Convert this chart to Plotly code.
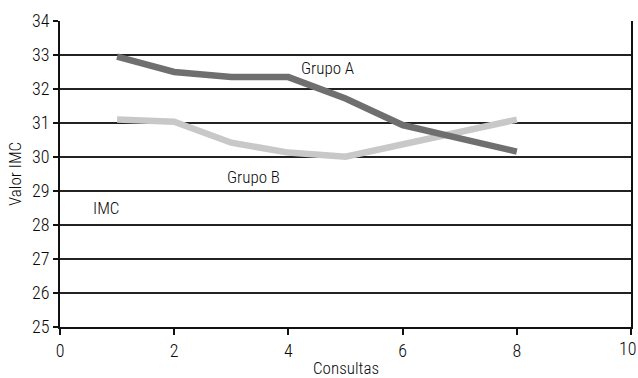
import plotly.graph_objects as go

consultas = [1, 2, 3, 4, 5, 6, 7, 8]
grupo_a = [32.95, 32.5, 32.35, 32.35, 31.72, 30.94, 30.55, 30.16]
grupo_b = [31.1, 31.04, 30.42, 30.13, 30.01, 30.37, 30.74, 31.1]
x_ticks = [0, 2, 4, 6, 8]
y_ticks = [25, 26, 27, 28, 29, 30, 31, 32, 33, 34]

FONT = "Roboto Condensed, Liberation Sans, Arial"
TXT = "#0a0a0a"
W = 300

fig = go.Figure()
fig.add_trace(go.Scatter(x=consultas, y=grupo_b, mode="lines", name="Grupo B",
                         line=dict(color="#c8c8c8", width=6.5)))
fig.add_trace(go.Scatter(x=consultas, y=grupo_a, mode="lines", name="Grupo A",
                         line=dict(color="#6f6f6f", width=6.5)))

fig.add_annotation(x=4.69, y=32.63, text="Grupo A", showarrow=False,
                   font=dict(size=17, color=TXT, family=FONT, weight=W))
fig.add_annotation(x=3.38, y=29.4, text="Grupo B", showarrow=False,
                   font=dict(size=17, color=TXT, family=FONT, weight=W))
fig.add_annotation(x=0.8, y=28.5, text="IMC", showarrow=False,
                   font=dict(size=17, color=TXT, family=FONT, weight=W))
# last x tick label, nudged left so it stays inside the page like the reference
fig.add_annotation(x=10, y=0, xref="x", yref="paper", yanchor="top", yshift=-9,
                   xshift=-3, text="10", showarrow=False,
                   font=dict(size=18, color=TXT, family=FONT, weight=W))
# axis titles
fig.add_annotation(x=0.5, y=0, xref="paper", yref="paper", yanchor="middle",
                   xshift=0, yshift=-41, text="Consultas", showarrow=False,
                   font=dict(size=17, color=TXT, family=FONT, weight=W))
fig.add_annotation(x=0, y=0.5, xref="paper", yref="paper", xanchor="center",
                   xshift=-45, text="Valor IMC", textangle=-90, showarrow=False,
                   font=dict(size=17, color=TXT, family=FONT, weight=W))

fig.update_layout(
    width=638, height=378,
    margin=dict(l=60, r=7, t=21, b=51),
    paper_bgcolor="white", plot_bgcolor="white",
    showlegend=False,
    font=dict(family=FONT, size=18, color=TXT, weight=W),
    xaxis=dict(range=[0, 10], tickvals=x_ticks + [10], ticktext=[str(v) for v in x_ticks] + [""],
               showgrid=False, automargin=False,
               zeroline=False, showline=True, linecolor="#111", linewidth=2,
               mirror=False, ticks="outside", ticklen=6, tickcolor="#111", tickwidth=1.5,
               tickfont=dict(size=18)),
    yaxis=dict(range=[25, 34], tickvals=y_ticks, showgrid=True, gridcolor="#222",
               gridwidth=1.6, zeroline=False, showline=True, linecolor="#111",
               linewidth=2, mirror=True, ticks="outside", ticklen=5, tickwidth=1.5,
               tickcolor="#111", automargin=False, tickfont=dict(size=18)),
)

fig.write_html("out.html", config={"displayModeBar": False},
               post_script="document.body.style.margin='0';")
